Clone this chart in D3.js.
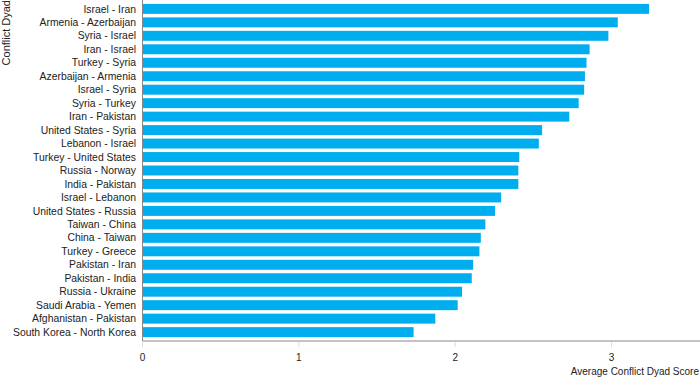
<!DOCTYPE html>
<html><head><meta charset="utf-8">
<script src="https://cdn.jsdelivr.net/npm/d3@7"></script>
<style>
html,body{margin:0;padding:0;background:#fff;}
svg{display:block;font-family:"Liberation Sans",Arial,sans-serif;}
</style></head>
<body><svg id="chart" width="700" height="378"></svg>
<script>
const categories = ["Israel - Iran","Armenia - Azerbaijan","Syria - Israel","Iran - Israel","Turkey - Syria","Azerbaijan - Armenia","Israel - Syria","Syria - Turkey","Iran - Pakistan","United States - Syria","Lebanon - Israel","Turkey - United States","Russia - Norway","India - Pakistan","Israel - Lebanon","United States - Russia","Taiwan - China","China - Taiwan","Turkey - Greece","Pakistan - Iran","Pakistan - India","Russia - Ukraine","Saudi Arabia - Yemen","Afghanistan - Pakistan","South Korea - North Korea"];
const scores = [3.24,3.04,2.98,2.86,2.84,2.83,2.825,2.79,2.73,2.556,2.535,2.41,2.404,2.404,2.294,2.255,2.193,2.164,2.155,2.115,2.106,2.044,2.016,1.873,1.734];
const xTicks = [0,1,2,3];
const xTitle = "Average Conflict Dyad Score";
const yTitle = "Conflict Dyad";

(function(){
const svg = d3.select("#chart");
const mLeft = 142.5, mRight = 700, mTop = 0, mBottom = 341;
const x = d3.scaleLinear().domain([0, 3.566]).range([mLeft, mRight]);
const y = d3.scaleBand().domain(categories).range([mTop, mBottom]).paddingInner(0.26).paddingOuter(0.29);

svg.append("g").selectAll("rect").data(categories).join("rect")
  .attr("x", x(0)).attr("y", d => y(d))
  .attr("width", (d,i) => x(scores[i]) - x(0))
  .attr("height", y.bandwidth())
  .attr("fill", "#00aeef");

svg.append("g").selectAll("text").data(categories).join("text")
  .attr("x", 136).attr("y", d => y(d) + y.bandwidth()/2)
  .attr("dy", "0.35em").attr("text-anchor", "end")
  .attr("font-size", 10.4).attr("fill", "#222").text(d => d);

svg.append("line").attr("x1", mLeft).attr("x2", mLeft).attr("y1", 0).attr("y2", mBottom)
  .attr("stroke", "#888").attr("stroke-width", 1);
svg.append("line").attr("x1", mLeft).attr("x2", mRight).attr("y1", mBottom).attr("y2", mBottom)
  .attr("stroke", "#888").attr("stroke-width", 1);

const xa = svg.append("g");
xa.selectAll("line").data(xTicks).join("line")
  .attr("x1", d => x(d)).attr("x2", d => x(d)).attr("y1", mBottom + 1).attr("y2", mBottom + 6)
  .attr("stroke", "#ddd");
xa.selectAll("text").data(xTicks).join("text")
  .attr("x", d => x(d)).attr("y", 361).attr("text-anchor", "middle")
  .attr("font-size", 10).attr("fill", "#222").text(d => d);

svg.append("text").attr("x", 699).attr("y", 375).attr("text-anchor", "end")
  .attr("font-size", 10).attr("fill", "#222").text(xTitle);
svg.append("text").attr("transform", "translate(10,0) rotate(-90)")
  .attr("text-anchor", "end").attr("font-size", 11).attr("fill", "#222").text(yTitle);
})();
</script></body></html>
